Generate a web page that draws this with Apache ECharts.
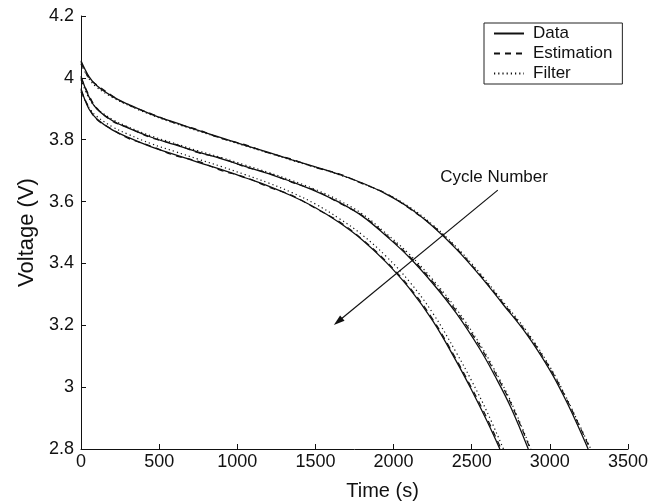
<!DOCTYPE html>
<html>
<head>
<meta charset="utf-8">
<script src="https://cdn.jsdelivr.net/npm/echarts@6/dist/echarts.min.js"></script>
<style>
html,body{margin:0;padding:0;background:#fff;}
#chart{width:666px;height:503px;}
</style>
</head>
<body>
<div id="chart"></div>
<script>
// ---- Data (time in s, voltage in V) ----
const xTicks = [0, 500, 1000, 1500, 2000, 2500, 3000, 3500];
const yTicks = [2.8, 3, 3.2, 3.4, 3.6, 3.8, 4, 4.2];
const legendNames = ['Data', 'Estimation', 'Filter'];

// Cycle 1 (top curve)
const c1Time = [0,50,100,200,300,450,600,750,900,1050,1200,1350,1500,1650,1800,1950,2100,2250,2400,2550,2700,2850,3000,3100,3175,3245];
const c1Data = [4.055,4.005,3.975,3.940,3.915,3.882,3.856,3.830,3.806,3.782,3.759,3.735,3.712,3.688,3.660,3.625,3.580,3.520,3.447,3.362,3.268,3.172,3.055,2.960,2.880,2.800];
const c1EstTime = [0,50,100,200,300,450,600,750,900,1050,1200,1350,1500,1650,1800,1950,2100,2250,2400,2550,2700,2850,3000,3100,3175,3258];
const c1Est = [4.050,4.000,3.978,3.942,3.913,3.884,3.854,3.832,3.804,3.784,3.757,3.737,3.710,3.690,3.658,3.627,3.578,3.522,3.450,3.365,3.272,3.177,3.062,2.968,2.890,2.800];
const c1FiltTime = [0,50,100,200,300,450,600,750,900,1050,1200,1350,1500,1650,1800,1950,2100,2250,2400,2550,2700,2850,3000,3100,3175,3262];
const c1Filt = [4.045,3.998,3.970,3.937,3.912,3.880,3.853,3.828,3.804,3.780,3.757,3.733,3.711,3.687,3.659,3.626,3.583,3.525,3.454,3.370,3.277,3.182,3.066,2.972,2.893,2.800];

// Cycle 2 (middle curve)
const c2Time = [0,50,100,200,300,450,600,750,900,1050,1200,1350,1500,1650,1800,1950,2100,2250,2400,2550,2650,2750,2862];
const c2Data = [4.005,3.940,3.900,3.862,3.838,3.808,3.784,3.760,3.738,3.714,3.690,3.664,3.634,3.598,3.553,3.490,3.420,3.336,3.240,3.125,3.035,2.935,2.800];
const c2EstTime = [0,50,100,200,300,450,600,750,900,1050,1200,1350,1500,1650,1800,1950,2100,2250,2400,2550,2650,2750,2875];
const c2Est = [4.000,3.945,3.903,3.860,3.840,3.806,3.786,3.758,3.740,3.712,3.692,3.662,3.636,3.596,3.555,3.493,3.424,3.341,3.247,3.134,3.046,2.948,2.800];
const c2FiltTime = [0,50,100,200,300,450,600,750,900,1050,1200,1350,1500,1650,1800,1950,2100,2250,2400,2550,2650,2750,2878];
const c2Filt = [3.995,3.935,3.902,3.866,3.842,3.812,3.788,3.764,3.742,3.718,3.694,3.668,3.639,3.604,3.560,3.498,3.430,3.348,3.254,3.141,3.052,2.954,2.800];

// Cycle 3 (bottom curve)
const c3Time = [0,50,100,200,300,450,600,750,900,1050,1200,1350,1500,1650,1800,1950,2100,2250,2400,2500,2600,2680];
const c3Data = [3.965,3.900,3.868,3.832,3.808,3.777,3.752,3.727,3.703,3.677,3.650,3.618,3.580,3.533,3.476,3.405,3.320,3.215,3.085,2.990,2.888,2.800];
const c3EstTime = [0,50,100,200,300,450,600,750,900,1050,1200,1350,1500,1650,1800,1950,2100,2250,2400,2500,2600,2688];
const c3Est = [3.960,3.905,3.866,3.834,3.805,3.779,3.749,3.730,3.700,3.679,3.647,3.620,3.578,3.536,3.478,3.408,3.324,3.220,3.091,2.997,2.897,2.800];
const c3FiltTime = [0,50,100,200,300,450,600,750,900,1050,1200,1350,1500,1650,1800,1950,2100,2250,2400,2500,2600,2703];
const c3Filt = [3.955,3.905,3.876,3.842,3.818,3.787,3.762,3.737,3.713,3.687,3.660,3.629,3.592,3.546,3.492,3.424,3.342,3.240,3.113,3.020,2.918,2.800];

// Annotation
const arrowFrom = [2667, 3.637];
const arrowTo = [1645, 3.212];
const annotationText = 'Cycle Number';
const annotationAt = [2643, 3.68];

// ---- Chart ----
const FONT = '"Liberation Sans", Arial, Helvetica, sans-serif';
const INK = '#111';
const pairs = (t, v) => t.map((x, i) => [x, v[i]]);

const styles = {
  Data: { type: 'solid', width: 1.3 },
  Estimation: { type: [6, 5], width: 1.2 },
  Filter: { type: [1.2, 3], width: 1.2 }
};

function mk(name, t, v, z, extra) {
  return Object.assign({
    name: name,
    type: 'line',
    data: pairs(t, v),
    showSymbol: false,
    symbol: 'none',
    smooth: 0.4,
    z: z,
    color: INK,
    lineStyle: { color: INK, width: styles[name].width, type: styles[name].type },
    emphasis: { disabled: true },
    animation: false
  }, extra || {});
}

const series = [
  mk('Filter', c1FiltTime, c1Filt, 2),
  mk('Filter', c2FiltTime, c2Filt, 2),
  mk('Filter', c3FiltTime, c3Filt, 2),
  mk('Estimation', c1EstTime, c1Est, 3),
  mk('Estimation', c2EstTime, c2Est, 3),
  mk('Estimation', c3EstTime, c3Est, 3),
  mk('Data', c1Time, c1Data, 4),
  mk('Data', c2Time, c2Data, 4),
  mk('Data', c3Time, c3Data, 4, {
    markLine: {
      silent: true,
      animation: false,
      symbol: ['none', 'triangle'],
      symbolSize: 9,
      label: { show: false },
      lineStyle: { color: INK, width: 1.2, type: 'solid' },
      itemStyle: { color: INK },
      data: [[
        { coord: arrowFrom, symbol: 'none' },
        { coord: arrowTo, symbol: 'triangle', symbolSize: [7, 11] }
      ]]
    },
    markPoint: {
      silent: true,
      animation: false,
      symbol: 'circle',
      symbolSize: 0,
      data: [{
        coord: annotationAt,
        label: {
          show: true, position: 'inside', formatter: annotationText,
          color: INK, fontSize: 17, fontFamily: FONT
        }
      }]
    }
  })
];

const chart = echarts.init(document.getElementById('chart'), null, { renderer: 'canvas' });
chart.setOption({
  backgroundColor: '#fff',
  animation: false,
  textStyle: { fontFamily: FONT },
  grid: { left: 81, right: 38, top: 16, bottom: 54, containLabel: false, outerBoundsMode: 'none' },
  legend: {
    data: legendNames,
    orient: 'vertical',
    left: 484,
    top: 23,
    width: 138,
    padding: [2, 10, 2, 9],
    itemGap: 3,
    itemWidth: 30,
    itemHeight: 14,
    borderColor: '#222',
    borderWidth: 1,
    borderRadius: 0,
    backgroundColor: '#fff',
    selectedMode: false,
    itemStyle: { opacity: 0 },
    textStyle: { color: INK, fontSize: 17, lineHeight: 17, fontFamily: FONT, padding: [0, 0, 0, 4] }
  },
  xAxis: {
    type: 'value',
    min: xTicks[0],
    max: xTicks[xTicks.length - 1],
    interval: xTicks[1] - xTicks[0],
    name: 'Time (s)',
    nameLocation: 'middle',
    nameGap: 32,
    nameTextStyle: { color: INK, fontSize: 20, fontFamily: FONT, padding: [0, 0, 0, 56] },
    axisLine: { show: true, onZero: false, lineStyle: { color: INK, width: 1 } },
    axisTick: { show: true, inside: true, length: 5, lineStyle: { color: INK } },
    axisLabel: { color: INK, fontSize: 18, margin: 4, fontFamily: FONT, formatter: v => String(v) },
    splitLine: { show: false }
  },
  yAxis: {
    type: 'value',
    min: yTicks[0],
    max: yTicks[yTicks.length - 1],
    interval: 0.2,
    name: 'Voltage (V)',
    nameLocation: 'middle',
    nameRotate: 90,
    nameGap: 42,
    nameTextStyle: { color: INK, fontSize: 22, fontFamily: FONT },
    axisLine: { show: true, onZero: false, lineStyle: { color: INK, width: 1 } },
    axisTick: { show: true, inside: true, length: 5, lineStyle: { color: INK } },
    axisLabel: {
      color: INK, fontSize: 18, margin: 7, fontFamily: FONT,
      formatter: v => String(+(+v).toFixed(1))
    },
    splitLine: { show: false }
  },
  series: series
});
</script>
</body>
</html>
